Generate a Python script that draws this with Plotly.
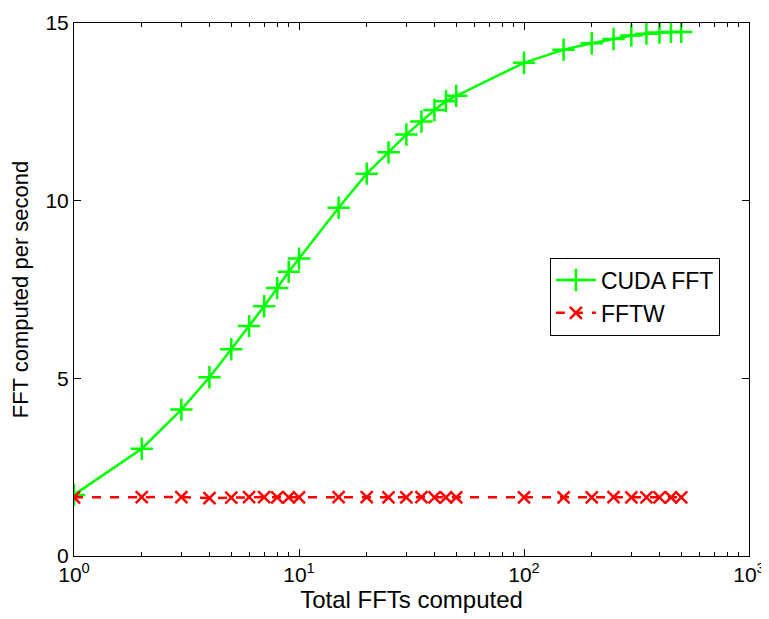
import plotly.graph_objects as go

n_ffts = [1, 2, 3, 4, 5, 6, 7, 8, 9, 10, 15, 20, 25, 30, 35, 40, 45, 50,
          100, 150, 200, 250, 300, 350, 400, 450, 500]
cuda_fft = [1.72, 3.02, 4.12, 5.03, 5.82, 6.47, 7.03, 7.54, 8.0, 8.37,
            9.8, 10.76, 11.36, 11.86, 12.23, 12.55, 12.8, 12.95,
            13.88, 14.25, 14.43, 14.55, 14.65, 14.7, 14.73, 14.75, 14.75]
fftw = [1.65, 1.66, 1.66, 1.63, 1.64, 1.66, 1.66, 1.65, 1.65, 1.65,
        1.66, 1.66, 1.65, 1.65, 1.66, 1.65, 1.65, 1.65,
        1.65, 1.65, 1.65, 1.66, 1.65, 1.65, 1.65, 1.65, 1.65]
x_tickvals = [1, 10, 100, 1000]
x_ticktext = ["10<sup>0</sup>", "10<sup>1</sup>", "10<sup>2</sup>", "10<sup>3</sup>"]
x_minor = [m * d for d in (1, 10, 100) for m in range(2, 10)]
y_tickvals = [0, 5, 10, 15]

fig = go.Figure()
fig.add_trace(go.Scatter(
    x=n_ffts, y=cuda_fft, name="CUDA FFT", mode="lines+markers",
    line=dict(color="#00ff00", width=2.5),
    marker=dict(symbol="cross-thin-open", size=16, line=dict(color="#00ff00", width=2.5)),
))
fig.add_trace(go.Scatter(
    x=n_ffts, y=fftw, name="FFTW", mode="lines+markers",
    line=dict(color="#ff0000", width=2.5, dash="dash"),
    marker=dict(symbol="x-thin-open", size=12, line=dict(color="#ff0000", width=2.5)),
))

font = "Liberation Sans, Arial, sans-serif"
fig.update_layout(
    width=761, height=611,
    margin=dict(l=66, r=20, t=15, b=63),
    paper_bgcolor="white", plot_bgcolor="white",
    font=dict(family=font, size=21, color="black"),
    showlegend=True,
    legend=dict(x=0.705, y=0.56, xanchor="left", yanchor="top",
                bordercolor="black", borderwidth=1, bgcolor="white",
                font=dict(size=23), tracegroupgap=0, itemwidth=40),
    xaxis=dict(type="log", range=[0, 3], tickvals=x_tickvals, ticktext=x_ticktext,
               showline=True, linecolor="black", linewidth=1, mirror="ticks",
               ticks="inside", ticklen=7, tickcolor="black", showgrid=False,
               minor=dict(tickvals=x_minor, ticks="inside", ticklen=4,
                          tickcolor="black", showgrid=False),
               title=dict(text="Total FFTs computed", standoff=0, font=dict(size=24)),
               zeroline=False, automargin=False),
    yaxis=dict(range=[0, 15], tickvals=y_tickvals,
               showline=True, linecolor="black", linewidth=1, mirror="ticks",
               ticks="inside", ticklen=7, tickcolor="black", showgrid=False,
               title=dict(text="FFT computed per second", standoff=10, font=dict(size=22)),
               zeroline=False, automargin=False),
)
fig.write_html("out.html")
